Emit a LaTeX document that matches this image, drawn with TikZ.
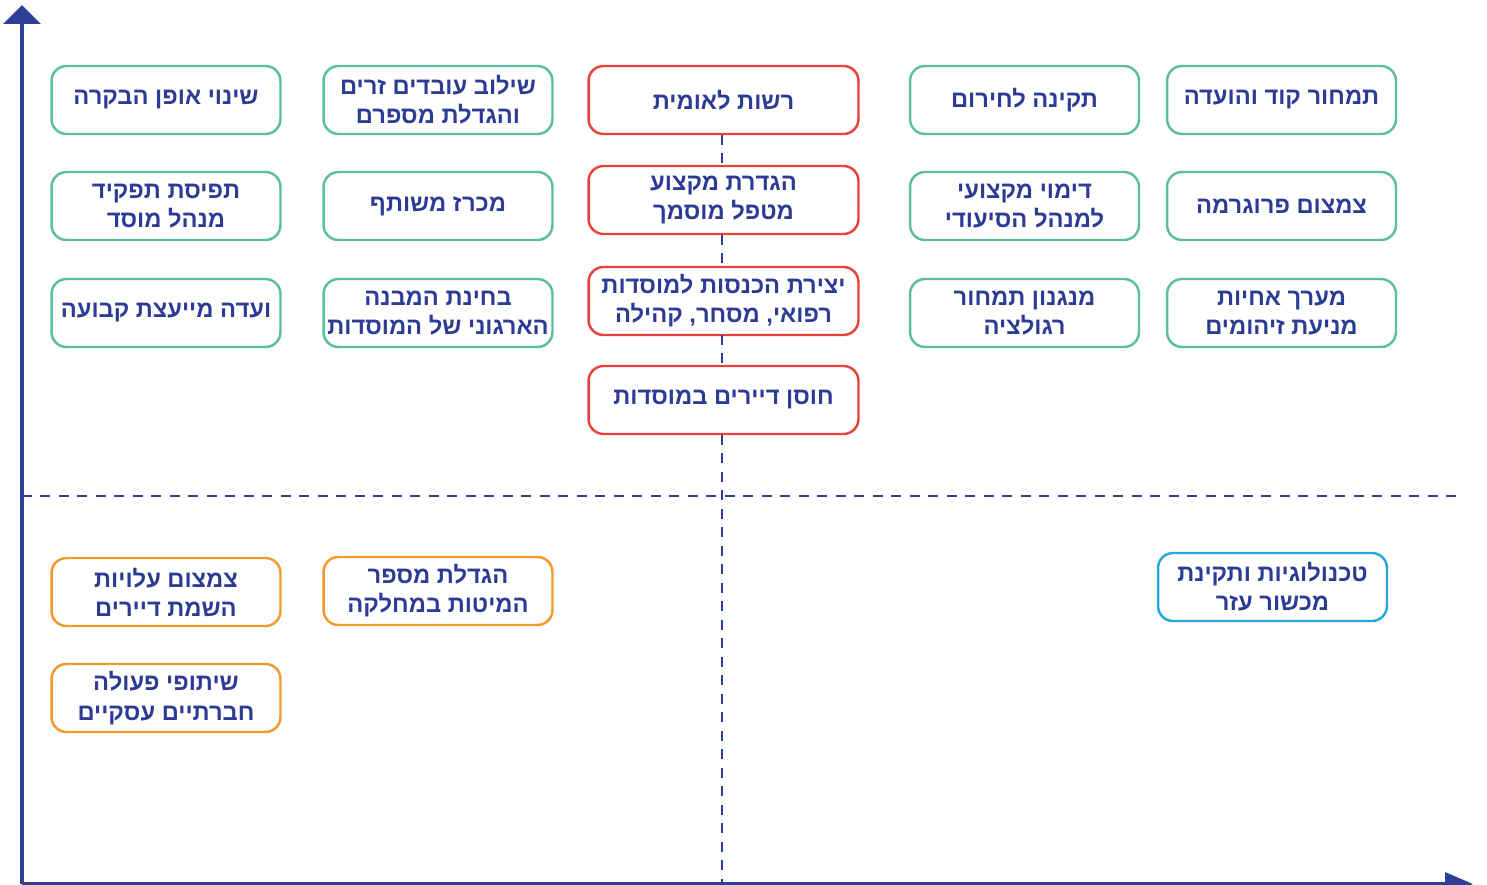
\documentclass[tikz,border=0pt]{standalone}
\usepackage{fontspec}
\newfontfamily\hebfont[Script=Hebrew]{Liberation Sans}
\TeXXeTstate=1
\usetikzlibrary{arrows.meta}

\definecolor{axisblue}{HTML}{2E3F98}
\definecolor{txtblue}{HTML}{2C3B94}
\definecolor{boxgreen}{HTML}{5CBE9A}
\definecolor{boxred}{HTML}{E8423B}
\definecolor{boxorange}{HTML}{F4992C}
\definecolor{boxblue}{HTML}{2AA7DF}

\newcommand{\heb}[1]{\beginR #1\endR}

\begin{document}
\begin{tikzpicture}[x=0.02cm, y=-0.02cm,
    every node/.style={text=txtblue, align=center,
      font=\hebfont\bfseries\fontsize{13.5}{16.6}\selectfont},
    item/.style={draw, fill=white, rounded corners=0.3cm, line width=1.4pt,
      minimum width=4.58cm, minimum height=1.36cm, inner sep=0pt},
    green/.style={item, draw=boxgreen},
    red/.style={item, draw=boxred, minimum width=5.4cm},
    orange/.style={item, draw=boxorange},
    blue/.style={item, draw=boxblue},
    axis/.style={draw=axisblue, line width=2.1pt},
    split/.style={draw=axisblue, line width=1.1pt, dash pattern=on 0.2cm off 0.17cm}]
  \useasboundingbox (0,0) rectangle (1487,885);

  % axes
  \coordinate (o) at (22,884);
  \coordinate (ytop) at (22,5);
  \coordinate (xend) at (1473,884);
  \draw[axis, -{Triangle[width=0.74cm, length=0.38cm]}] (o) -- (ytop);
  \draw[axis, -{Triangle[width=0.46cm, length=0.56cm]}] (o) -- (xend);

  % quadrant lines
  \coordinate (hl) at (22,496);
  \coordinate (hr) at (1460,496);
  \coordinate (vb) at (722,885);
  \draw[split] (hl) -- (hr);

  % top right quadrant
  \node[red] (r1) at (723.5,100) {\heb{רשות לאומית}};
  \node[red] (r2) at (723.5,200) {\heb{הגדרת מקצוע}\\\heb{מטפל מוסמך}};
  \node[red] (r3) at (723.5,301) {\heb{יצירת הכנסות למוסדות}\\\heb{רפואי, מסחר, קהילה}};
  \node[red] (r4) at (723.5,400) {\heb{חוסן דיירים במוסדות}};
  \draw[split] (722,135) -- (722,164) (722,235) -- (722,265) (722,335) -- (722,365);
  \draw[split] (722,435) -- (vb);

  \node[green] (g1) at (166,100) {\heb{שינוי אופן הבקרה}};
  \node[green] (g2) at (166,206) {\heb{תפיסת תפקיד}\\\heb{מנהל מוסד}};
  \node[green] (g3) at (166,313) {\heb{ועדה מייעצת קבועה}};
  \node[green] (g4) at (438,100) {\heb{שילוב עובדים זרים}\\\heb{והגדלת מספרם}};
  \node[green] (g5) at (438,206) {\heb{מכרז משותף}};
  \node[green] (g6) at (438,313) {\heb{בחינת המבנה}\\\heb{הארגוני של המוסדות}};
  \node[green] (g7) at (1024.5,100) {\heb{תקינה לחירום}};
  \node[green] (g8) at (1024.5,206) {\heb{דימוי מקצועי}\\\heb{למנהל הסיעודי}};
  \node[green] (g9) at (1024.5,313) {\heb{מנגנון תמחור}\\\heb{רגולציה}};
  \node[green] (g10) at (1281.5,100) {\heb{תמחור קוד והועדה}};
  \node[green] (g11) at (1281.5,206) {\heb{צמצום פרוגרמה}};
  \node[green] (g12) at (1281.5,313) {\heb{מערך אחיות}\\\heb{מניעת זיהומים}};

  % bottom half
  \node[orange] (o1) at (166,592) {\heb{צמצום עלויות}\\\heb{השמת דיירים}};
  \node[orange] (o2) at (438,591) {\heb{הגדלת מספר}\\\heb{המיטות במחלקה}};
  \node[orange] (o3) at (166,698) {\heb{שיתופי פעולה}\\\heb{חברתיים עסקיים}};
  \node[blue] (b1) at (1272.5,587) {\heb{טכנולוגיות ותקינת}\\\heb{מכשור עזר}};
\end{tikzpicture}
\end{document}
